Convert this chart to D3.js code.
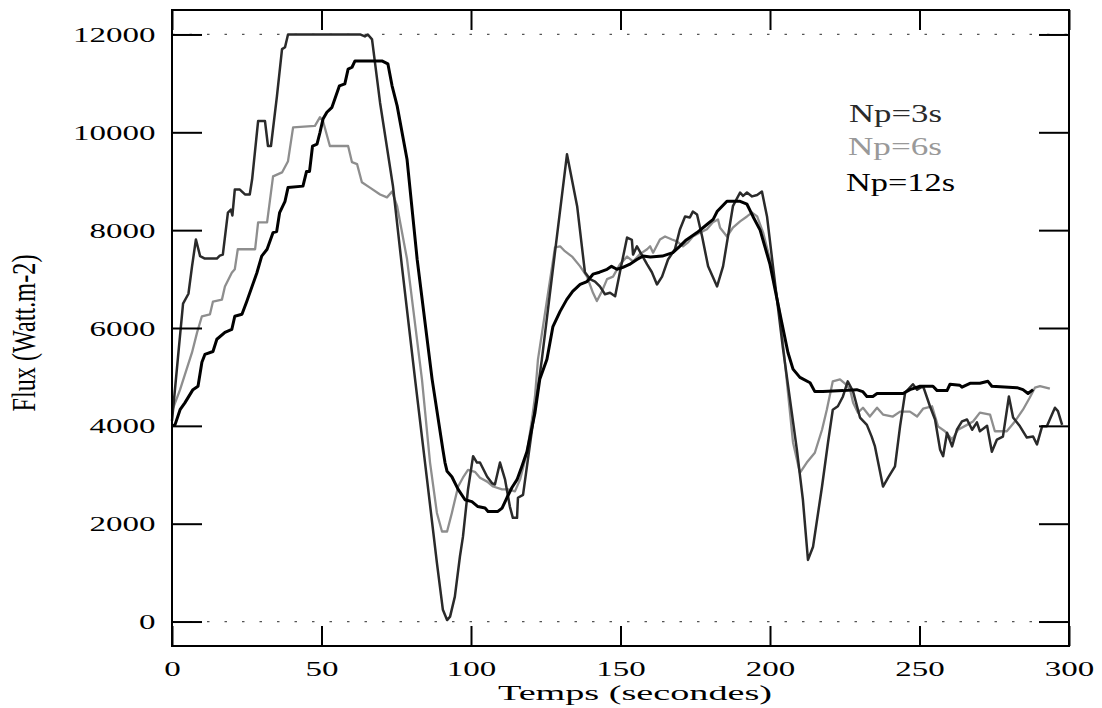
<!DOCTYPE html>
<html><head><meta charset="utf-8">
<script src="https://cdn.jsdelivr.net/npm/d3@7"></script>
<style>body{margin:0;background:#fff}svg{display:block}</style>
</head><body>
<svg id="c" width="1102" height="708"></svg>
<script>
const xTicks=[0,50,100,150,200,250,300];
const yTicks=[0,2000,4000,6000,8000,10000,12000];
const seriesNames=["Np=3s","Np=6s","Np=12s"];

const t3=[0,2,3.7,5.5,6.7,8,9.4,11,15,16,17,18.7,19.7,20.2,21,22.7,24.4,26,26.8,28.8,31.1,32.1,33.1,35.1,36.8,37.8,38.8,62.9,64.5,65.5,66.9,69.6,73.9,76.9,81.3,85.3,88.6,90.6,92,93,94.6,96.3,97.3,99,100.7,102,103,105.4,107,108,109.7,111.4,113,114,115.4,115.7,117.4,120.4,122,123.7,132.1,135.5,138.1,139.8,141.5,143.1,144.8,146.5,148.2,149.8,152.2,153.8,154.2,155.5,158.9,160.5,162.2,163.9,165.9,168.2,169.9,171.6,173.2,174.2,175.6,177.3,179.3,182.3,184.3,187.6,190,191,192.3,194,195.7,197.3,199,201,204.3,209,211,212.7,214.4,217.4,219.4,221,222.7,224.4,226,227.8,230.1,232.4,234,235.1,237.8,239.5,241.8,243.5,245.2,247.8,249.2,251.2,253.5,255.2,256.9,257.9,259.2,260.9,262.5,264.2,265.9,267.6,269.2,270.2,272.6,274.2,275.9,277.9,279.9,281.3,283.6,285.9,288,289.3,291,292.6,294.3,295.3,296.3,297.7];
const v3=[4100,5400,6500,6700,7260,7810,7470,7420,7420,7480,7500,8360,8420,8300,8830,8830,8730,8730,9040,10230,10230,9720,9720,10740,11700,11740,12000,12000,11960,12000,11900,10600,8900,7260,4950,2900,1200,240,30,100,510,1330,1730,2700,3380,3250,3250,2960,2830,2800,3250,2900,2350,2120,2120,2530,2590,3920,4600,5360,9550,8490,7140,7000,6950,6850,6690,6720,6650,7140,7850,7800,7500,7670,7300,7140,6890,7050,7400,7610,8020,8280,8260,8380,8320,7870,7260,6850,7260,8490,8770,8700,8770,8690,8720,8790,8280,7260,5600,3510,2490,1260,1530,2760,3660,4330,4400,4600,4910,4700,4170,4020,3780,3580,2760,2940,3170,3990,4680,4850,4740,4810,4400,4130,3510,3380,3860,3580,3920,4090,4130,3920,4070,3890,4000,3470,3720,3780,4600,4170,3990,3760,3780,3620,3990,3990,4230,4370,4300,4020];

const t6=[0,2.7,6.7,8.4,10,12.7,13.7,16.7,17.7,20,21,22,27.8,28.8,31.8,33.8,36.8,38.8,40.5,47.8,49.5,50.5,52.8,58.9,60.2,61.9,63.5,66.2,69.6,71.9,73.6,75.3,78.6,83.6,86.3,88.6,90.3,92,93.6,95.7,97.3,99,101.3,103,105.4,107.4,110.4,112.4,114.7,116.4,118.7,120.4,121.4,122.4,128.1,129.8,131.4,133.8,136.5,138.8,140.8,142.1,143.8,145.5,147.5,149.8,152.2,154.2,156.5,158.9,159.9,160.9,163.2,164.9,167.2,168.9,170.9,172.6,174.2,176.6,178.9,180.9,182.6,183.3,185.6,187.6,190,192.3,194,195.7,197.7,200,203.3,207.7,210,212.3,215,217.4,219,221,223.4,225,226.8,227.8,229.4,231.1,233.4,235.8,237.8,241.1,243.5,246.8,249.2,251.2,254.2,256.2,258.5,260.9,262.9,265.9,267.9,270.2,273.6,275.2,279.2,281.9,284.6,286.9,288.6,290.3,293.6];
const v6=[4300,4740,5500,5910,6240,6280,6540,6580,6850,7130,7200,7610,7610,8160,8160,9100,9180,9410,10100,10130,10310,10230,9720,9720,9390,9350,8980,8870,8730,8670,8790,8490,7410,4950,3250,2220,1840,1840,2220,2760,2940,3100,3060,2940,2860,2760,2700,2700,2660,2900,3450,4130,4600,5360,7650,7670,7570,7460,7260,7050,6720,6550,6750,7000,7050,7300,7460,7360,7510,7610,7670,7540,7810,7870,7810,7770,7670,7750,7870,7950,8020,8160,8220,8050,7870,8050,8180,8280,8360,8280,7950,7400,6320,3660,3040,3250,3450,3920,4330,4910,4950,4870,4740,4470,4270,4370,4190,4370,4230,4190,4290,4290,4190,4350,4400,3990,3890,3720,3920,4020,4090,4270,4230,3890,3890,4090,4330,4580,4780,4810,4760];

const t12=[0,1,2.7,4.3,7,8.7,10,11,13.7,15,17.7,20,21,23.4,25,28.4,30,31.8,33.8,35,36,37.8,38.8,43.8,45,46,47,48.5,49.5,50.5,51.8,53.5,56,57.8,58.9,60.2,61.2,70.2,72.2,73.6,75.3,78.6,82,87,90.6,91.3,92,93.6,95.7,98,100.3,102.3,104.7,105.7,109,110.4,112,113.7,115.4,117,118.7,121.4,123,125.4,127.4,129.8,132,134,136.5,138.8,140.8,143,145.5,147,148.8,150.8,153,155.5,157.5,160,164,167.5,169.8,172,175.6,179,181,182.3,185.6,190,192.3,194.3,196.7,200,203.3,206,207.7,210,213.4,215,217.7,224.4,229,231,232.4,234.4,235.8,244.5,246.8,250.2,254.5,255.9,259.2,260.2,263.5,264.2,266.9,270.2,272.9,274.2,282.6,284.6,286.3,288];
const v12=[4000,4020,4330,4470,4740,4810,5300,5460,5520,5770,5910,5970,6240,6280,6540,7130,7470,7610,7950,7970,8360,8590,8870,8900,9200,9200,9720,9760,10000,10270,10410,10510,10950,10990,11290,11330,11460,11460,11400,10950,10540,9450,7400,4950,3510,3250,3070,2960,2700,2490,2450,2350,2320,2250,2250,2320,2530,2740,2900,3170,3470,4270,4950,5360,6030,6340,6580,6750,6890,6950,7100,7140,7200,7260,7200,7240,7300,7400,7470,7450,7470,7540,7670,7800,7950,8120,8220,8380,8590,8590,8530,8280,8000,7300,6300,5500,5160,4990,4880,4700,4700,4720,4740,4700,4600,4600,4660,4660,4740,4810,4810,4720,4720,4850,4830,4790,4870,4870,4910,4810,4780,4740,4660,4740];

const W=1102,H=708;
const svg=d3.select("#c");
svg.append("rect").attr("width",W).attr("height",H).attr("fill","#fff");
const L=172,R=1069,T=10,B=646;
const x=d3.scaleLinear().domain([0,300]).range([L,R]);
const y=d3.scaleLinear().domain([-500,12500]).range([B,T]);
const FONT="'Liberation Serif','Times New Roman',serif";

// dotted reference lines at 0 and 12000
[0,12000].forEach(v=>{
  svg.append("line").attr("x1",L).attr("x2",R).attr("y1",y(v)).attr("y2",y(v))
    .attr("stroke","#555").attr("stroke-width",1.2).attr("stroke-dasharray","2.5,15");
});

const line=d3.line().x(d=>x(d[0])).y(d=>y(d[1]));
const mk=(t,v)=>t.map((tt,i)=>[tt,v[i]]);
const series=[
  {name:seriesNames[1],data:mk(t6,v6),color:"#8e8e8e",w:2.3},
  {name:seriesNames[0],data:mk(t3,v3),color:"#2a2a2a",w:2.5},
  {name:seriesNames[2],data:mk(t12,v12),color:"#000",w:3}
];
series.forEach(s=>{
  svg.append("path").datum(s.data).attr("d",line).attr("fill","none")
    .attr("stroke",s.color).attr("stroke-width",s.w).attr("stroke-linejoin","round");
});

// axes
const styleAxis=g=>{g.select(".domain").remove();g.selectAll(".tick line").attr("stroke","#000").attr("stroke-width",2);};
const gl=svg.append("g").attr("transform",`translate(${L},0)`)
  .call(d3.axisLeft(y).tickValues(yTicks).tickSize(-30).tickSizeOuter(0).tickPadding(11).tickFormat(d3.format("d")));
styleAxis(gl);
gl.selectAll("text").attr("font-family",FONT).attr("font-size",22).attr("fill","#000").attr("transform","scale(1.5,1)");
const gr=svg.append("g").attr("transform",`translate(${R},0)`)
  .call(d3.axisRight(y).tickValues(yTicks).tickSize(-30).tickSizeOuter(0).tickFormat(""));
styleAxis(gr);
const gb=svg.append("g").attr("transform",`translate(0,${B})`)
  .call(d3.axisBottom(x).tickValues(xTicks).tickSize(-20).tickSizeOuter(0).tickPadding(14).tickFormat(d3.format("d")));
styleAxis(gb);
gb.selectAll(".tick text").attr("font-family",FONT).attr("font-size",22).attr("fill","#000").attr("transform","scale(1.5,1)");
const gt=svg.append("g").attr("transform",`translate(0,${T})`)
  .call(d3.axisTop(x).tickValues(xTicks).tickSize(-20).tickSizeOuter(0).tickFormat(""));
styleAxis(gt);

// frame
svg.append("rect").attr("x",L).attr("y",T).attr("width",R-L).attr("height",B-T)
  .attr("fill","none").attr("stroke","#000").attr("stroke-width",2);

// axis titles
svg.append("text").attr("x",635).attr("y",700).attr("text-anchor","middle")
  .attr("font-family",FONT).attr("font-size",22).attr("textLength",274).attr("lengthAdjust","spacingAndGlyphs")
  .text("Temps (secondes)");
svg.append("text").attr("transform","translate(35,333) rotate(-90) scale(1,1.5)").attr("text-anchor","middle")
  .attr("font-family",FONT).attr("font-size",22).attr("textLength",157).attr("lengthAdjust","spacingAndGlyphs")
  .text("Flux (Watt.m-2)");

// legend
const legend=[
  {t:seriesNames[0],x:849,y:122,len:93,c:"#2a2a2a"},
  {t:seriesNames[1],x:848,y:155,len:94,c:"#999"},
  {t:seriesNames[2],x:846,y:191,len:109,c:"#000"}
];
legend.forEach(l=>{
  svg.append("text").attr("x",l.x).attr("y",l.y).attr("font-family",FONT).attr("font-size",25)
    .attr("fill",l.c).attr("textLength",l.len).attr("lengthAdjust","spacingAndGlyphs").text(l.t);
});
</script>
</body></html>
